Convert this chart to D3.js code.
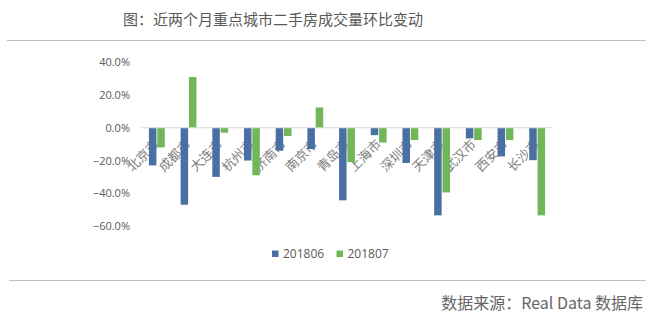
<!DOCTYPE html>
<html>
<head>
<meta charset="utf-8">
<script src="https://cdn.jsdelivr.net/npm/d3@7"></script>
<style>
  html, body { margin: 0; padding: 0; background: #fff; }
  svg { display: block; }
</style>
</head>
<body>
<svg id="chart" width="658" height="324"></svg>
<script>
// City list and month-over-month change (%) of second-hand home transactions
const cities = ["北京市", "成都市", "大连市", "杭州市", "济南市", "南京市", "青岛市",
                "上海市", "深圳市", "天津市", "武汉市", "西安市", "长沙市"];
const seriesNames = ["201806", "201807"];
const values201806 = [-23, -47, -30, -20, -14, -13, -44.3, -4.5, -21.5, -53.5, -6.5, -17.5, -19.8];
const values201807 = [-12, 31, -3, -29, -5, 12.4, -21, -9, -7.5, -39.5, -7.5, -7.5, -53.5];
const yTicks = [40, 20, 0, -20, -40, -60];
const colors = ["#4a6fa2", "#72b65a"];

const svg = d3.select("#chart");

// Title and rules
svg.append("text")
  .attr("x", 273).attr("y", 25)
  .attr("text-anchor", "middle")
  .attr("font-family", "'Noto Sans CJK SC', sans-serif")
  .attr("font-size", 15)
  .attr("fill", "#595959")
  .text("图：近两个月重点城市二手房成交量环比变动");

svg.append("line")
  .attr("x1", 7).attr("x2", 646).attr("y1", 40.5).attr("y2", 40.5)
  .attr("stroke", "#bfbfbf").attr("stroke-width", 1.2);

svg.append("line")
  .attr("x1", 9).attr("x2", 646).attr("y1", 280.5).attr("y2", 280.5)
  .attr("stroke", "#bfbfbf").attr("stroke-width", 1.2);

svg.append("text")
  .attr("x", 643).attr("y", 309)
  .attr("text-anchor", "end")
  .attr("font-family", "'Noto Sans CJK SC', sans-serif")
  .attr("font-size", 16)
  .attr("fill", "#666")
  .text("数据来源：Real Data 数据库");

// Scales
const y = d3.scaleLinear().domain([-60, 40]).range([226, 62.3]);
const x0 = d3.scaleBand().domain(cities).range([141, 553]).paddingInner(0.5).paddingOuter(0.25);
const x1 = d3.scaleBand().domain(seriesNames).range([0, x0.bandwidth()]).paddingInner(0.1);

// Y axis labels (no axis line, no gridlines)
const yAxis = d3.axisLeft(y).tickValues(yTicks)
  .tickFormat(d => d3.format(".1f")(d) + "%")
  .tickSize(0).tickPadding(0);
const gy = svg.append("g").attr("transform", "translate(130,0)").call(yAxis);
gy.select(".domain").remove();
gy.selectAll("text")
  .attr("font-family", "'Open Sans', sans-serif")
  .attr("font-size", 11)
  .attr("fill", "#595959");

// Category labels, rotated; drawn first so the bars sit over them
svg.append("g").selectAll("text").data(cities).join("text")
  .attr("transform", d => `translate(${x0(d) + x0.bandwidth() / 2},${y(0) + 14}) rotate(-45)`)
  .attr("text-anchor", "end")
  .attr("dy", "0.35em")
  .attr("font-family", "'Noto Sans CJK SC', sans-serif")
  .attr("font-size", 13)
  .attr("fill", "#808080")
  .text(d => d);

// Bars
const rows = cities.map((c, i) => ({ city: c, vals: [values201806[i], values201807[i]] }));
const groups = svg.append("g").selectAll("g").data(rows).join("g")
  .attr("transform", d => `translate(${x0(d.city)},0)`);
groups.selectAll("rect")
  .data(d => d.vals.map((v, k) => ({ key: seriesNames[k], v, k })))
  .join("rect")
  .attr("x", d => x1(d.key))
  .attr("width", x1.bandwidth())
  .attr("y", d => y(Math.max(0, d.v)))
  .attr("height", d => Math.abs(y(d.v) - y(0)))
  .attr("fill", d => colors[d.k]);

// Zero line
svg.append("line")
  .attr("x1", 141).attr("x2", 553).attr("y1", y(0)).attr("y2", y(0))
  .attr("stroke", "#d9d9d9").attr("stroke-width", 1);

// Legend
const legend = svg.append("g").attr("transform", "translate(272,250.5)");
seriesNames.forEach((name, i) => {
  const g = legend.append("g").attr("transform", `translate(${i * 64.5},0)`);
  g.append("rect").attr("width", 6.5).attr("height", 6.5).attr("fill", colors[i]);
  g.append("text")
    .attr("x", 11).attr("y", 3.3).attr("dy", "0.35em")
    .attr("font-family", "'Open Sans', sans-serif")
    .attr("font-size", 12)
    .attr("fill", "#595959")
    .text(name);
});
</script>
</body>
</html>
